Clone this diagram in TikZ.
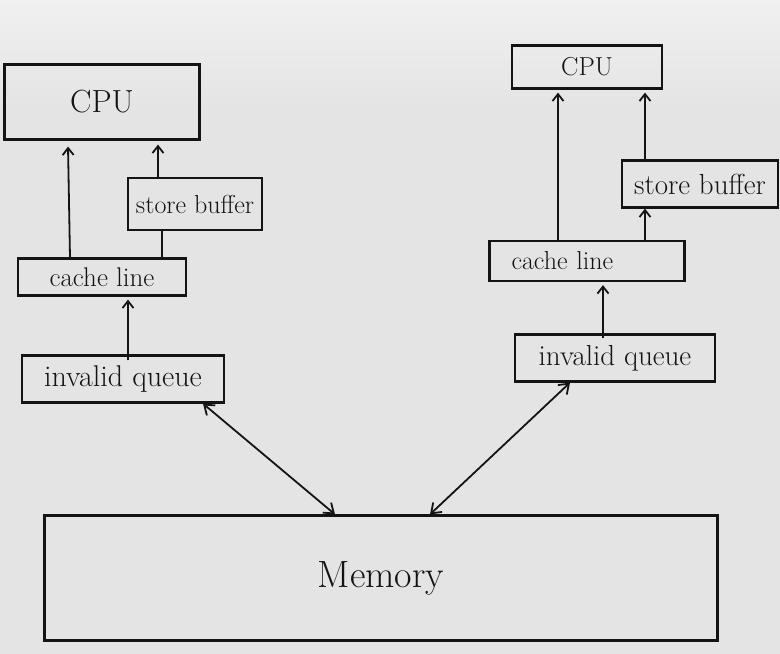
\documentclass[tikz,border=0pt]{standalone}
\usepackage{fontspec}
\usetikzlibrary{arrows.meta}
\definecolor{paper}{RGB}{228,228,228}
\definecolor{paperlight}{RGB}{240,240,240}
\definecolor{ink}{RGB}{20,20,20}
\begin{document}
\begin{tikzpicture}[x=1pt,y=-1pt,
  box/.style={draw=ink,line width=2.2pt,inner sep=0pt,text=ink},
  conn/.style={draw=ink,line width=1.8pt},
  arr/.style={conn,-{Straight Barb[length=7pt,width=11pt]}},
  darr/.style={conn,{Straight Barb[length=9pt,width=13pt]}-{Straight Barb[length=9pt,width=13pt]}}]
\fill[paper] (0,0) rectangle (780,654);
\shade[top color=paperlight,bottom color=paper] (0,0) rectangle (780,110);
\useasboundingbox (0,0) rectangle (780,654);
% left
\node[box,minimum width=195pt,minimum height=75pt,font=\fontsize{32}{34}\selectfont] (lcpu) at (102,102) {CPU};
\node[box,minimum width=134pt,minimum height=52pt,font=\fontsize{26}{28}\selectfont] (lsb) at (195,204) {store buffer};
\node[box,minimum width=168pt,minimum height=37pt,font=\fontsize{27}{29}\selectfont] (lcl) at (102,277) {cache line};
\node[box,minimum width=202pt,minimum height=47pt,font=\fontsize{30}{32}\selectfont] (liq) at (123,379) {invalid queue};
% right
\node[box,minimum width=150pt,minimum height=43pt,font=\fontsize{26}{28}\selectfont] (rcpu) at (587,67) {CPU};
\node[box,minimum width=156pt,minimum height=47pt,font=\fontsize{29}{31}\selectfont] (rsb) at (700,184) {store buffer};
\node[box,minimum width=195pt,minimum height=40pt,font=\fontsize{26}{28}\selectfont,text width=175pt,align=left] (rcl) at (587,261) {\hspace*{12pt}cache line};
\node[box,minimum width=200pt,minimum height=47pt,font=\fontsize{29}{31}\selectfont] (riq) at (615,358) {invalid queue};
% memory
\node[box,minimum width=673pt,minimum height=125pt,font=\fontsize{38}{40}\selectfont] (mem) at (381,578) {Memory};
% left connectors
\draw[arr] ([xshift=-32pt]lcl.north) -- ([xshift=-34pt,yshift=-6pt]lcpu.south);
\draw[arr] ([xshift=-37pt]lsb.north) -- ([xshift=56pt,yshift=-4pt]lcpu.south);
\draw[conn] ([xshift=60pt]lcl.north) -- ([xshift=-33pt]lsb.south);
\draw[arr] ([xshift=5pt,yshift=-6pt]liq.north) -- ([xshift=26pt,yshift=-3pt]lcl.south);
\draw[darr] ([xshift=80pt]liq.south) -- ([xshift=-46pt]mem.north);
% right connectors
\draw[arr] ([xshift=-29pt]rcl.north) -- ([xshift=-29pt,yshift=-3pt]rcpu.south);
\draw[arr] ([xshift=-55pt]rsb.north) -- ([xshift=58pt,yshift=-3pt]rcpu.south);
\draw[arr] ([xshift=58pt]rcl.north) -- ([xshift=-55pt]rsb.south);
\draw[arr] ([xshift=-12pt,yshift=-5pt]riq.north) -- ([xshift=16pt,yshift=-3pt]rcl.south);
\draw[darr] ([xshift=-45pt]riq.south) -- ([xshift=49pt]mem.north);
\end{tikzpicture}
\end{document}
